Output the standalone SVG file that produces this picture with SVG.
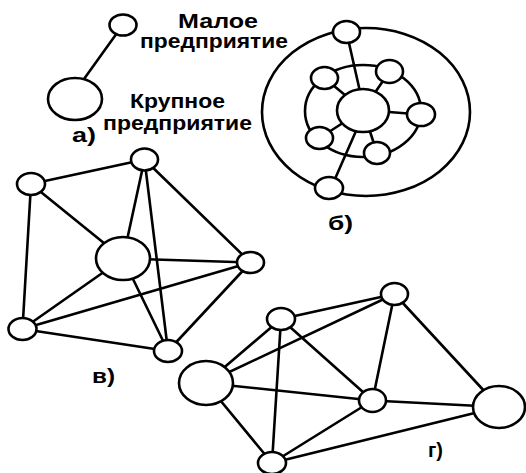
<svg xmlns="http://www.w3.org/2000/svg" width="526" height="473" viewBox="0 0 526 473">
<style>
.n{fill:#fff;stroke:#000;stroke-width:2.6}
.ring{fill:none;stroke:#000;stroke-width:2.6}
.e line{stroke:#000;stroke-width:2.6;stroke-linecap:round}
.t{font-family:"Liberation Sans",Arial,sans-serif;font-weight:bold;font-size:20px;fill:#000}
</style>
<rect width="526" height="473" fill="#fff"/>

<!-- Panel a -->
<g class="e" id="edges-a">
<line x1="117" y1="33" x2="84" y2="79"/>
</g>
<g id="a-small"><ellipse class="n" cx="123" cy="25" rx="13.5" ry="10.5"/></g>
<g id="a-large"><ellipse class="n" cx="75" cy="99" rx="27" ry="21"/></g>

<!-- Panel b -->
<g id="b-outer"><ellipse class="ring" cx="366" cy="112" rx="104" ry="84"/></g>
<g id="b-ring"><ellipse class="ring" cx="363" cy="111" rx="58" ry="46"/></g>
<g class="e" id="edges-b">
<line x1="346.5" y1="32" x2="361" y2="96"/>
<line x1="356" y1="131" x2="331" y2="188"/>
<line x1="363" y1="110" x2="324.5" y2="78"/>
<line x1="363" y1="110" x2="389.5" y2="71.5"/>
<line x1="363" y1="110" x2="421" y2="114.5"/>
<line x1="363" y1="110" x2="319.5" y2="138"/>
<line x1="363" y1="110" x2="377" y2="153"/>
</g>
<g id="b-top"><ellipse class="n" cx="346.5" cy="32" rx="13.5" ry="11"/></g>
<g id="b-bottom"><ellipse class="n" cx="329" cy="188" rx="14" ry="11"/></g>
<g id="b-center"><ellipse class="n" cx="363" cy="110.5" rx="26" ry="21.5"/></g>
<g id="b-ul"><ellipse class="n" cx="324.5" cy="78" rx="13.5" ry="11"/></g>
<g id="b-ur"><ellipse class="n" cx="389.5" cy="71.5" rx="13.5" ry="11.5"/></g>
<g id="b-r"><ellipse class="n" cx="421" cy="114.5" rx="14" ry="11.5"/></g>
<g id="b-ll"><ellipse class="n" cx="319.5" cy="138" rx="13.5" ry="11"/></g>
<g id="b-lr"><ellipse class="n" cx="377" cy="153" rx="13" ry="11"/></g>

<!-- Panel v -->
<g class="e" id="edges-v">
<line x1="31" y1="184" x2="144.5" y2="159.5"/>
<line x1="31" y1="184" x2="123" y2="258.5"/>
<line x1="31" y1="184" x2="22.5" y2="329"/>
<line x1="144.5" y1="159.5" x2="123" y2="258.5"/>
<line x1="144.5" y1="159.5" x2="168" y2="351"/>
<line x1="144.5" y1="159.5" x2="250.5" y2="262.5"/>
<line x1="123" y1="258.5" x2="250.5" y2="262.5"/>
<line x1="123" y1="258.5" x2="22.5" y2="329"/>
<line x1="123" y1="258.5" x2="168" y2="351"/>
<line x1="22.5" y1="329" x2="250.5" y2="262.5"/>
<line x1="22.5" y1="329" x2="168" y2="351"/>
<line x1="250.5" y1="262.5" x2="168" y2="351"/>
</g>
<g id="v-top"><ellipse class="n" cx="144.5" cy="159.5" rx="13.5" ry="11"/></g>
<g id="v-ul"><ellipse class="n" cx="31" cy="184" rx="14" ry="11"/></g>
<g id="v-center"><ellipse class="n" cx="123" cy="258.5" rx="27" ry="21.5"/></g>
<g id="v-right"><ellipse class="n" cx="250.5" cy="262.5" rx="13.5" ry="10.5"/></g>
<g id="v-ll"><ellipse class="n" cx="22.5" cy="329" rx="14" ry="11"/></g>
<g id="v-bottom"><ellipse class="n" cx="168" cy="351" rx="14" ry="11"/></g>

<!-- Panel g -->
<g class="e" id="edges-g">
<line x1="206" y1="383" x2="281" y2="319"/>
<line x1="206" y1="383" x2="394.5" y2="294"/>
<line x1="206" y1="383" x2="372.5" y2="400.5"/>
<line x1="206" y1="383" x2="272" y2="463"/>
<line x1="281" y1="319" x2="394.5" y2="294"/>
<line x1="281" y1="319" x2="372.5" y2="400.5"/>
<line x1="281" y1="319" x2="272" y2="463"/>
<line x1="394.5" y1="294" x2="372.5" y2="400.5"/>
<line x1="394.5" y1="294" x2="499" y2="407"/>
<line x1="372.5" y1="400.5" x2="499" y2="407"/>
<line x1="372.5" y1="400.5" x2="272" y2="463"/>
<line x1="272" y1="463" x2="499" y2="407"/>
</g>
<g id="g-bigL"><ellipse class="n" cx="206" cy="383" rx="27" ry="22"/></g>
<g id="g-top"><ellipse class="n" cx="281" cy="319" rx="14" ry="11"/></g>
<g id="g-topR"><ellipse class="n" cx="394.5" cy="294" rx="13.5" ry="11"/></g>
<g id="g-mid"><ellipse class="n" cx="372.5" cy="400.5" rx="13.5" ry="11.5"/></g>
<g id="g-bigR"><ellipse class="n" cx="499" cy="407" rx="26" ry="21"/></g>
<g id="g-bottom"><ellipse class="n" cx="272" cy="463" rx="14" ry="11"/></g>

<!-- Labels -->
<g id="labels" class="t">
<text x="178" y="28" textLength="80" lengthAdjust="spacingAndGlyphs">Малое</text>
<text x="140" y="48" textLength="148" lengthAdjust="spacingAndGlyphs">предприятие</text>
<text x="130" y="108" textLength="95" lengthAdjust="spacingAndGlyphs">Крупное</text>
<text x="103" y="130" textLength="149" lengthAdjust="spacingAndGlyphs">предприятие</text>
<text x="72" y="142" textLength="24" lengthAdjust="spacingAndGlyphs">а)</text>
<text x="328" y="230" textLength="25" lengthAdjust="spacingAndGlyphs">б)</text>
<text x="92" y="383" textLength="23" lengthAdjust="spacingAndGlyphs">в)</text>
<text x="428" y="457" textLength="15" lengthAdjust="spacingAndGlyphs">г)</text>
</g>
</svg>
